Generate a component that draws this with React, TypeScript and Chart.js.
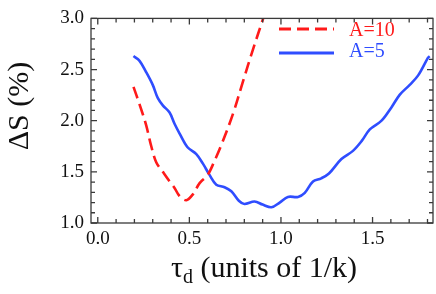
import React, { useEffect, useRef } from 'react';
import { Chart, registerables } from 'chart.js';

Chart.register(...registerables);

// ---- data ----
const seriesLabels = ['A=10', 'A=5'];
const seriesColors = ['#ff1a1a', '#2f4dff'];

const a10X = [0.195, 0.228, 0.264, 0.292, 0.319, 0.355, 0.392, 0.419, 0.446, 0.483, 0.519, 0.556, 0.6, 0.638, 0.674, 0.738, 0.792, 0.847, 0.903, 0.93];
const a10Y = [2.33, 2.16, 1.956, 1.75, 1.594, 1.5, 1.406, 1.343, 1.264, 1.223, 1.28, 1.39, 1.47, 1.61, 1.76, 2.066, 2.38, 2.695, 3.0, 3.15];

const a5X = [0.195, 0.228, 0.264, 0.3, 0.328, 0.355, 0.392, 0.419, 0.446, 0.49, 0.538, 0.574, 0.61, 0.647, 0.692, 0.729, 0.77, 0.8, 0.856, 0.9, 0.948, 0.993, 1.038, 1.093, 1.13, 1.175, 1.22, 1.262, 1.33, 1.393, 1.44, 1.485, 1.549, 1.603, 1.649, 1.703, 1.749, 1.803, 1.812];
const a5Y = [2.632, 2.585, 2.475, 2.35, 2.22, 2.15, 2.08, 1.97, 1.877, 1.74, 1.673, 1.58, 1.47, 1.375, 1.35, 1.31, 1.217, 1.186, 1.21, 1.18, 1.154, 1.2, 1.255, 1.255, 1.295, 1.406, 1.437, 1.484, 1.625, 1.705, 1.8, 1.915, 2.0, 2.13, 2.255, 2.35, 2.443, 2.616, 2.63];

const xTickValues = [0, 0.5, 1.0, 1.5];
const yTickValues = [1.0, 1.5, 2.0, 2.5, 3.0];
const xRange = [-0.037, 1.83];
const yRange = [1.0, 3.0];
const minorStep = 0.1;

const yTitle = 'ΔS (%)';
const xTitleMain = 'τ';
const xTitleSub = 'd';
const xTitleRest = ' (units of 1/k)';

const FONT = '"Liberation Serif", "Times New Roman", serif';

const framePlugin = {
  id: 'frameTicks',
  afterDraw(chart: any) {
    const { ctx, chartArea: a, scales } = chart;
    const xs = scales.x, ys = scales.y;
    ctx.save();
    ctx.strokeStyle = '#3a3a3a';
    ctx.lineWidth = 1.3;
    ctx.strokeRect(a.left, a.top, a.right - a.left, a.bottom - a.top);
    ctx.beginPath();
    const isMajor = (v: number) => Math.abs(v / 0.5 - Math.round(v / 0.5)) < 1e-6;
    for (let k = Math.ceil(xRange[0] / minorStep - 1e-9); k * minorStep <= xRange[1] + 1e-9; k++) {
      const v = k * minorStep;
      const px = xs.getPixelForValue(v);
      const len = isMajor(v) ? 6 : 4;
      ctx.moveTo(px, a.bottom); ctx.lineTo(px, a.bottom - len);
      ctx.moveTo(px, a.top); ctx.lineTo(px, a.top + len);
    }
    for (let k = Math.ceil(yRange[0] / minorStep - 1e-9); k * minorStep <= yRange[1] + 1e-9; k++) {
      const v = k * minorStep;
      const py = ys.getPixelForValue(v);
      const len = isMajor(v) ? 6 : 4;
      ctx.moveTo(a.left, py); ctx.lineTo(a.left + len, py);
      ctx.moveTo(a.right, py); ctx.lineTo(a.right - len, py);
    }
    ctx.stroke();

    // legend
    chart.data.datasets.forEach((ds: any, i: number) => {
      const ly = 29 + i * 24;
      ctx.beginPath();
      ctx.strokeStyle = ds.borderColor;
      ctx.lineWidth = 3;
      ctx.setLineDash(ds.borderDash || []);
      ctx.moveTo(279, ly); ctx.lineTo(334, ly);
      ctx.stroke();
      ctx.setLineDash([]);
      ctx.fillStyle = ds.borderColor;
      ctx.font = `20px ${FONT}`;
      ctx.textBaseline = 'alphabetic';
      ctx.textAlign = 'left';
      ctx.fillText(ds.label, 349, 36 + i * 21);
    });

    // y title
    ctx.fillStyle = '#111';
    ctx.save();
    ctx.translate(28, 106);
    ctx.rotate(-Math.PI / 2);
    ctx.font = `30px ${FONT}`;
    ctx.textAlign = 'center';
    ctx.textBaseline = 'alphabetic';
    ctx.fillText(yTitle, 0, 0);
    ctx.restore();

    // x title with subscript
    ctx.textAlign = 'left';
    ctx.textBaseline = 'alphabetic';
    ctx.font = `30px ${FONT}`;
    const w1 = ctx.measureText(xTitleMain).width;
    const w3 = ctx.measureText(xTitleRest).width;
    ctx.font = `20px ${FONT}`;
    const w2 = ctx.measureText(xTitleSub).width;
    const total = w1 + w2 + w3;
    const x0 = 264 - total / 2;
    const base = 277;
    ctx.font = `30px ${FONT}`;
    ctx.fillText(xTitleMain, x0, base);
    ctx.font = `20px ${FONT}`;
    ctx.fillText(xTitleSub, x0 + w1, base + 6);
    ctx.font = `30px ${FONT}`;
    ctx.fillText(xTitleRest, x0 + w1 + w2, base);
    ctx.restore();
  },
};

export default function App() {
  const ref = useRef<HTMLCanvasElement | null>(null);
  useEffect(() => {
    document.body.style.margin = '0';
    const toPts = (xs: number[], ys: number[]) => xs.map((x, i) => ({ x, y: ys[i] }));
    const chart = new Chart(ref.current as HTMLCanvasElement, {
      type: 'line',
      data: {
        datasets: [
          {
            label: seriesLabels[0],
            data: toPts(a10X, a10Y),
            borderColor: seriesColors[0],
            borderWidth: 2.6,
            borderDash: [12, 6],
            pointRadius: 0,
            tension: 0.35,
            fill: false,
          },
          {
            label: seriesLabels[1],
            data: toPts(a5X, a5Y),
            borderColor: seriesColors[1],
            borderWidth: 2.6,
            pointRadius: 0,
            tension: 0.35,
            fill: false,
          },
        ],
      },
      options: {
        animation: false,
        responsive: false,
        maintainAspectRatio: false,
        layout: { padding: { left: 0, right: 3, top: 11, bottom: 0 } },
        plugins: { legend: { display: false }, tooltip: { enabled: false } },
        scales: {
          x: {
            type: 'linear',
            min: xRange[0],
            max: xRange[1],
            grid: { display: false, drawTicks: false },
            border: { display: false },
            afterBuildTicks: (s: any) => { s.ticks = xTickValues.map((v) => ({ value: v })); },
            afterFit: (s: any) => { s.height = 71; },
            ticks: {
              padding: 5,
              color: '#111',
              font: { family: FONT, size: 19 },
              callback: (v: any) => Number(v).toFixed(1),
              maxRotation: 0,
            },
          },
          y: {
            type: 'linear',
            min: yRange[0],
            max: yRange[1],
            grid: { display: false, drawTicks: false },
            border: { display: false },
            afterBuildTicks: (s: any) => { s.ticks = yTickValues.map((v) => ({ value: v })); },
            afterFit: (s: any) => { s.width = 91; },
            ticks: {
              padding: 7,
              color: '#111',
              font: { family: FONT, size: 19 },
              callback: (v: any) => Number(v).toFixed(1),
            },
          },
        },
      },
      plugins: [framePlugin],
    } as any);
    return () => chart.destroy();
  }, []);
  return (
    <div style={{ width: 436, height: 294 }}>
      <canvas ref={ref} width={436} height={294} style={{ display: 'block' }} />
    </div>
  );
}
